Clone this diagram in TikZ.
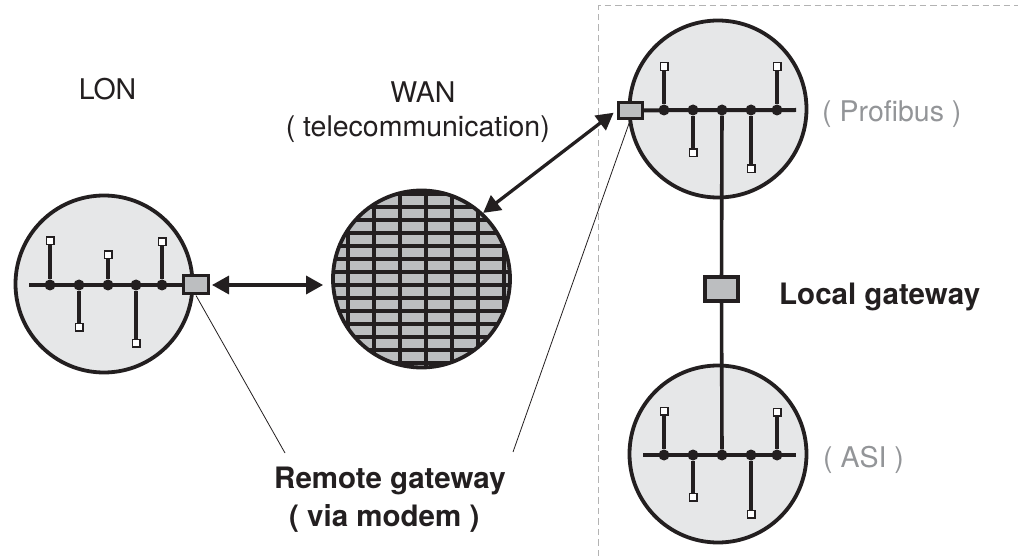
\documentclass[tikz,border=0pt]{standalone}
\usepackage{fontspec}
\setmainfont{TeX Gyre Heros}
\usetikzlibrary{arrows.meta}
\definecolor{ink}{HTML}{231F20}
\definecolor{netfill}{HTML}{E6E7E8}
\definecolor{gwfill}{HTML}{BCBEC0}
\definecolor{lblgray}{HTML}{939598}
\definecolor{dashgray}{HTML}{B3B3B3}
\begin{document}
\begin{tikzpicture}[x=1pt,y=-1pt,
  netcircle/.style={circle, draw=ink, line width=3.8pt, fill=netfill, minimum size=177pt, inner sep=0pt},
  wancircle/.style={circle, fill=gwfill, minimum size=177pt, inner sep=0pt, outer sep=1.9pt},
  gateway/.style={rectangle, draw=ink, fill=gwfill, line width=3pt, inner sep=0pt},
  busdot/.style={circle, fill=ink, minimum size=11pt, inner sep=0pt},
  terminal/.style={rectangle, draw=ink, fill=white, line width=1.4pt, minimum size=7.6pt, inner sep=0pt},
  busline/.style={draw=ink, line width=4pt},
  stubline/.style={draw=ink, line width=3.3pt},
  gridline/.style={draw=ink, line width=3.3pt},
  dblarrow/.style={draw=ink, line width=3.3pt, {Triangle[length=17pt,width=18pt]}-{Triangle[length=17pt,width=18pt]}},
  pointer/.style={draw=ink, line width=0.8pt},
  txt/.style={inner sep=0pt, font=\fontsize{28.5}{32}\selectfont, text=ink},
  bold/.style={txt, font=\fontsize{29.5}{34}\selectfont\bfseries},
  graytxt/.style={txt, text=lblgray},
  frame/.style={draw=dashgray, line width=1pt, dash pattern=on 6.5pt off 4pt}
]
\useasboundingbox (0,0) rectangle (1018,556);

% dashed frame
\draw[frame] (598,556) -- (598,6) -- (1018,6);

% network circles
\node[netcircle] (lon) at (104,284) {};
\node[netcircle] (prof) at (718,109) {};
\node[netcircle] (asi) at (718,454) {};
\node[wancircle] (wan) at (421.5,279) {};
\begin{scope}
  \clip (wan.center) circle[radius=88.5pt];
  \foreach \yy in {194,207,...,364} \draw[gridline] (328,\yy) -- (516,\yy);
  \foreach \xx in {348,374,...,505} \draw[gridline] (\xx,185) -- (\xx,372);
\end{scope}
\draw[draw=ink, line width=3.8pt] (wan.center) circle[radius=88.5pt];

% gateways
\node[gateway, minimum width=25pt, minimum height=18pt] (lgw) at (196,285) {};
\node[gateway, minimum width=24pt, minimum height=16pt] (pgw) at (630.3,110.3) {};
\node[gateway, line width=4pt, minimum width=33pt, minimum height=24pt] (locgw) at (721.5,289) {};

% LON bus
\coordinate (lonstart) at (29,285);
\node[busdot] (l1) at (50,285) {};
\node[busdot] (l2) at (79,285) {};
\node[busdot] (l3) at (108,285) {};
\node[busdot] (l4) at (136,285) {};
\node[busdot] (l5) at (162,285) {};
\node[terminal] (lt1) at (50,241) {};
\node[terminal] (lt2) at (79,327) {};
\node[terminal] (lt3) at (108,255) {};
\node[terminal] (lt4) at (136,343) {};
\node[terminal] (lt5) at (162,242) {};
\draw[busline] (lonstart) -- (lgw.west);
\foreach \i in {1,...,5} \draw[stubline] (l\i) -- (lt\i);

% Profibus bus
\coordinate (profend) at (796,110);
\node[busdot] (p1) at (664,110) {};
\node[busdot] (p2) at (693,110) {};
\node[busdot] (p3) at (722,110) {};
\node[busdot] (p4) at (751,110) {};
\node[busdot] (p5) at (777,110) {};
\node[terminal] (pt1) at (664,66.5) {};
\node[terminal] (pt2) at (693,153) {};
\node[terminal] (pt4) at (751,169) {};
\node[terminal] (pt5) at (777,66.5) {};
\draw[busline] (pgw.east) -- (profend);
\foreach \i in {1,2,4,5} \draw[stubline] (p\i) -- (pt\i);

% ASI bus
\coordinate (asistart) at (643,455);
\coordinate (asiend) at (796,455);
\node[busdot] (a1) at (664,455) {};
\node[busdot] (a2) at (693,455) {};
\node[busdot] (a3) at (722,455) {};
\node[busdot] (a4) at (751,455) {};
\node[busdot] (a5) at (777,455) {};
\node[terminal] (at1) at (664,411) {};
\node[terminal] (at2) at (693,497) {};
\node[terminal] (at4) at (751,514) {};
\node[terminal] (at5) at (777,412) {};
\draw[busline] (asistart) -- (asiend);
\foreach \i in {1,2,4,5} \draw[stubline] (a\i) -- (at\i);

% local link
\draw[stubline, line width=3.6pt] (p3) -- (locgw);
\draw[stubline, line width=3.6pt] (locgw) -- (a3);

% arrows
\draw[dblarrow, shorten <=2pt, shorten >=8pt] (lgw.east) -- (lgw.east -| wan.west);
\draw[dblarrow, shorten >=4pt] (wan.47) -- (pgw.west);

% labels
\node[txt, anchor=base] (lonlbl) at (107.5,100) {LON};
\node[txt, anchor=base] (wanlbl) at (423,103) {WAN};
\node[txt, anchor=base east] (telelbl) at (550,137) {( telecommunication)};
\node[graytxt, anchor=base west] (proflbl) at (822,122) {( Profibus )};
\node[graytxt, anchor=base west] (asilbl) at (823,467) {( ASI )};
\node[bold, anchor=base west] (loclbl) at (779,305) {Local gateway};
\node[bold, anchor=base west] (remlbl) at (274,488) {Remote gateway};
\node[bold, anchor=base west] (modlbl) at (289,526) {( via modem )};

% pointer lines
\coordinate (ptrA) at (285,453);
\coordinate (ptrB) at (513,452);
\draw[pointer] (lgw.south) -- (ptrA);
\draw[pointer] (pgw.south) -- (ptrB);
\end{tikzpicture}
\end{document}
